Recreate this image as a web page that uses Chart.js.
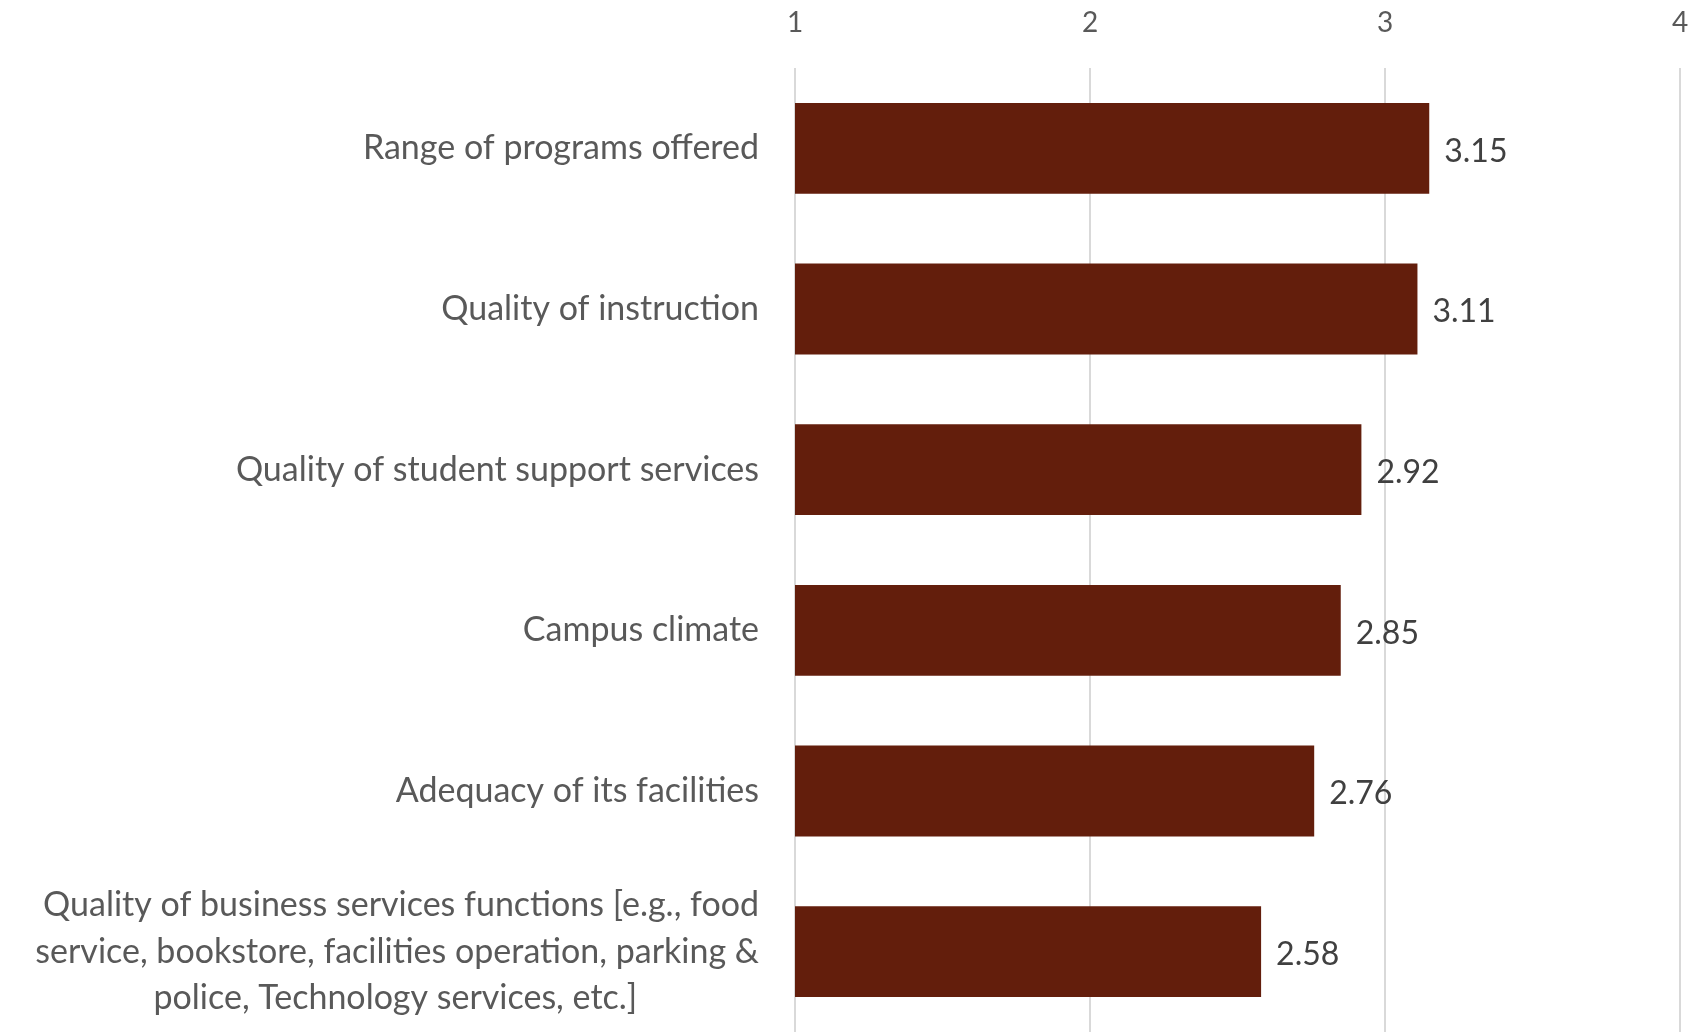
<!DOCTYPE html>
<html>
<head>
<meta charset="utf-8">
<script src="https://cdn.jsdelivr.net/npm/chart.js@4/dist/chart.umd.min.js"></script>
<style>
  html, body { margin: 0; padding: 0; background: #fff; }
  #wrap { width: 1700px; height: 1032px; }
</style>
</head>
<body>
<div id="wrap"><canvas id="chart" width="1700" height="1032"></canvas></div>
<script>
// categories (top to bottom)
const categories = [
  ["Range of programs offered"],
  ["Quality of instruction"],
  ["Quality of student support services"],
  ["Campus climate"],
  ["Adequacy of its facilities"],
  ["Quality of business services functions [e.g., food",
   "service, bookstore, facilities operation, parking &",
   "police, Technology services, etc.]"]
];
const ratings = [3.15, 3.11, 2.92, 2.85, 2.76, 2.58];
const axisMin = 1;
const axisMax = 4;

const FONT = "Lato";
const LABEL_SIZE = 34;

// centre the lines of a wrapped label by padding them with trailing spaces
const centreLines = function (lines, scale) {
  if (lines.length < 2) return lines;
  const ctx = scale.ctx;
  ctx.save();
  ctx.font = LABEL_SIZE + "px " + FONT;
  const widths = lines.map(l => ctx.measureText(l).width);
  const space = ctx.measureText(" ").width;
  ctx.restore();
  const maxW = Math.max(...widths);
  return lines.map((l, i) => l + " ".repeat(Math.round((maxW - widths[i]) / 2 / space)));
};

const valueLabels = {
  id: "valueLabels",
  afterDatasetsDraw(chart) {
    const ctx = chart.ctx;
    const meta = chart.getDatasetMeta(0);
    ctx.save();
    ctx.font = "32px " + FONT;
    ctx.fillStyle = "#404040";
    ctx.textAlign = "left";
    ctx.textBaseline = "middle";
    meta.data.forEach((bar, i) => {
      ctx.fillText(ratings[i].toFixed(2), bar.x + 15, bar.y + 3);
    });
    ctx.restore();
  }
};

const config = {
  type: "bar",
  data: {
    labels: categories,
    datasets: [{
      data: ratings,
      backgroundColor: "#631e0c",
      borderWidth: 0,
      categoryPercentage: 1,
      barPercentage: 0.565
    }]
  },
  options: {
    indexAxis: "y",
    responsive: false,
    animation: false,
    layout: { padding: { left: 0, right: 20, top: 0, bottom: 0 } },
    plugins: {
      legend: { display: false },
      tooltip: { enabled: false },
      title: { display: false }
    },
    scales: {
      x: {
        position: "top",
        min: axisMin,
        max: axisMax,
        grid: { color: "#d9d9d9", lineWidth: 2, drawTicks: false },
        border: { display: false },
        ticks: {
          stepSize: 1,
          padding: 28,
          color: "#595959",
          font: { family: FONT, size: 28 }
        },
        afterFit(scale) {
          scale.height = 68;
          scale.paddingLeft = 0;
          scale.paddingRight = 0;
        }
      },
      y: {
        grid: { display: false },
        border: { display: false },
        ticks: {
          padding: 28,
          color: "#595959",
          font: { family: FONT, size: LABEL_SIZE, lineHeight: 1.37 },
          callback: function (value, index) {
            return centreLines(categories[index], this);
          }
        },
        afterFit(scale) {
          scale.width = 795;
          scale.paddingTop = 0;
          scale.paddingBottom = 0;
        }
      }
    }
  },
  plugins: [valueLabels]
};

new Chart(document.getElementById("chart"), config);
</script>
</body>
</html>
